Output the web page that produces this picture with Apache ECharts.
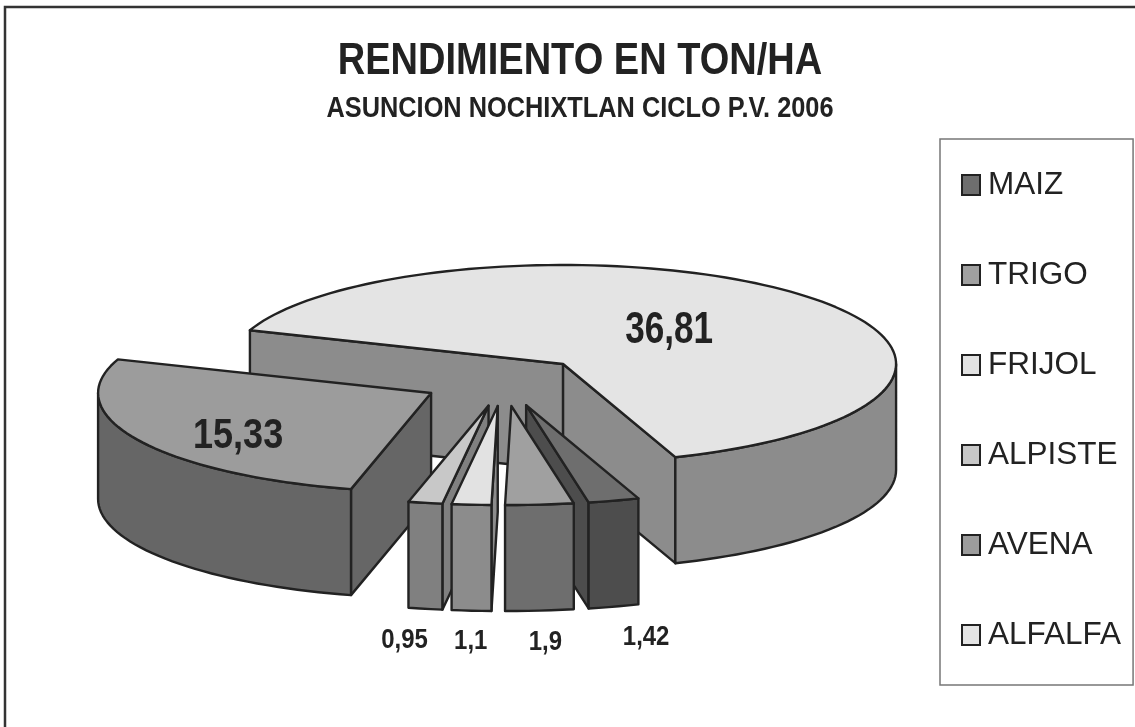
<!DOCTYPE html>
<html><head><meta charset="utf-8">
<style>html,body{margin:0;padding:0;background:#fff}#c{width:1135px;height:727px}</style>
<script src="https://cdn.jsdelivr.net/npm/echarts@6/dist/echarts.min.js"></script>
</head><body><div id="c"></div>
<script>
// Data
const crops = ['MAIZ','TRIGO','FRIJOL','ALPISTE','AVENA','ALFALFA'];
const yields = [1.42,1.9,1.1,0.95,15.33,36.81];
const yieldLabels = ['1,42','1,9','1,1','0,95','15,33','36,81'];
const titleText = 'RENDIMIENTO EN TON/HA';
const subtitleText = 'ASUNCION NOCHIXTLAN CICLO P.V. 2006';

// Styles
const topColors  = ['#6e6e6e','#a0a0a0','#e2e2e2','#c8c8c8','#9c9c9c','#e4e4e4'];
const wallColors = ['#4d4d4d','#6e6e6e','#8c8c8c','#808080','#666666','#8c8c8c'];
const seriesZ = [5,7,8,6,3,2];
const labelOffsets = [[120,232],[34,236],[-27,235],[-84,235],[-193,43],[106,-33]];
const labelSizes = [28,28,28,28,43,45];
const labelScales = [0.855,0.855,0.855,0.855,0.838,0.78];

// Pie geometry
const CX=504.3, CY=381.4, RX=333, RY=99, H=106, EXPLODE=83, START=160.3;
const ink='#222222', LW=2.4;
const total = yields.reduce((a,b)=>a+b,0);
const D2R=Math.PI/180;

function slicePt(ax,ay,deg){return [ax+RX*Math.sin(deg*D2R), ay-RY*Math.cos(deg*D2R)];}
function arcPts(ax,ay,a0,a1){
  const n=Math.max(2,Math.ceil(Math.abs(a1-a0)/2)), p=[];
  for(let i=0;i<=n;i++)p.push(slicePt(ax,ay,a0+(a1-a0)*i/n));
  return p;
}
function poly(points,fill){
  return {type:'polygon',shape:{points},style:{fill,stroke:ink,lineWidth:LW,lineJoin:'round'}};
}
function renderSlice(idx,params,api){
  const val=api.value(0);
  let before=0; for(let i=0;i<idx;i++)before+=yields[i];
  const a0=START+before/total*360, a1=a0+val/total*360, mid=(a0+a1)/2;
  const ax=CX+EXPLODE*Math.sin(mid*D2R), ay=CY-EXPLODE*(RY/RX)*Math.cos(mid*D2R);
  const down=p=>[p[0],p[1]+H];
  const children=[];
  const wall=wallColors[idx];
  const apex=[ax,ay];
  const sideFace=a=>{const r=slicePt(ax,ay,a);return poly([apex,r,down(r),down(apex)],wall);};
  if(Math.sin(a0*D2R)<0) children.push(sideFace(a0));
  if(Math.sin(a1*D2R)>0) children.push(sideFace(a1));
  // outer wall: front half of the rim, 90..270 degrees (mod 360)
  for(const k of [0,360]){
    const f0=Math.max(a0,90+k), f1=Math.min(a1,270+k);
    if(f1>f0){
      const rim=arcPts(ax,ay,f0,f1);
      children.push(poly(rim.concat(rim.slice().reverse().map(down)),wall));
    }
  }
  children.push(poly([apex].concat(arcPts(ax,ay,a0,a1)),topColors[idx]));
  const o=labelOffsets[idx];
  children.push({type:'text',x:ax+o[0],y:ay+o[1],scaleX:labelScales[idx],
    style:{text:yieldLabels[idx],align:'center',verticalAlign:'middle',
      font:'bold '+labelSizes[idx]+'px "Liberation Sans"',fill:ink}});
  return {type:'group',children};
}

const series=crops.map((name,i)=>({
  type:'custom',name,coordinateSystem:'none',z:seriesZ[i],
  data:[[yields[i]]],
  itemStyle:{color:topColors[i],borderColor:ink,borderWidth:2},
  renderItem:(p,api)=>renderSlice(i,p,api)
}));

const chart=echarts.init(document.getElementById('c'));
chart.setOption({
  animation:false,
  backgroundColor:'#ffffff',
  legend:{
    data:crops,orient:'vertical',left:940,top:139,
    padding:[30,12,34,21],itemGap:58,itemWidth:18,itemHeight:20,icon:'rect',
    borderColor:'#777777',borderWidth:1.5,selectedMode:false,
    textStyle:{fontFamily:'Liberation Sans',fontSize:31.5,color:ink,padding:[0,0,0,3]}
  },
  graphic:[
    {type:'rect',shape:{x:5,y:7,width:1200,height:800},z:-10,silent:true,
      style:{fill:'none',stroke:'#333333',lineWidth:2.5}},
    {type:'text',x:580,y:62,scaleX:0.845,z:10,
      style:{text:titleText,align:'center',verticalAlign:'middle',font:'bold 45px "Liberation Sans"',fill:ink}},
    {type:'text',x:580,y:109,scaleX:0.874,z:10,
      style:{text:subtitleText,align:'center',verticalAlign:'middle',font:'bold 29px "Liberation Sans"',fill:ink}}
  ],
  series
});
</script></body></html>
